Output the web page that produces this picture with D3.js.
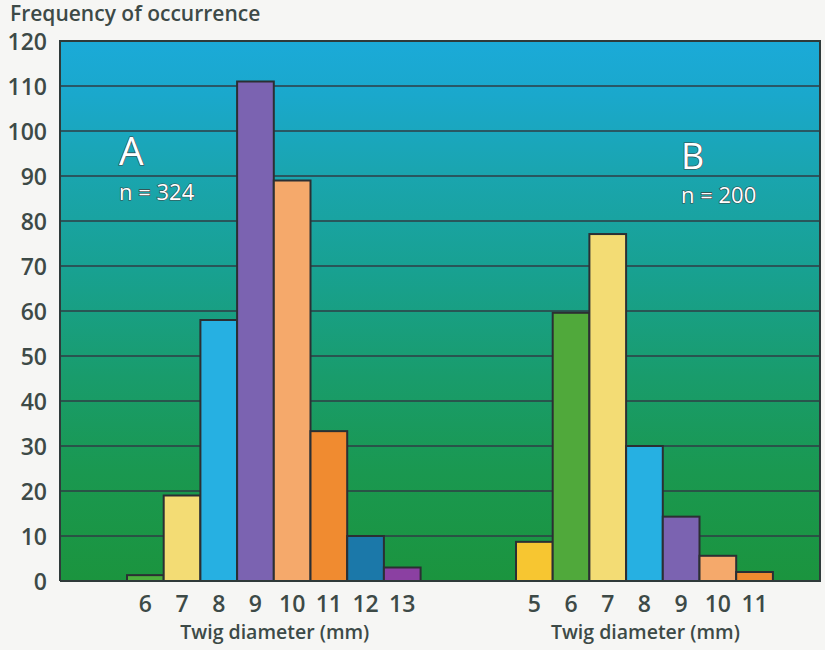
<!DOCTYPE html>
<html><head><meta charset="utf-8">
<script src="https://cdn.jsdelivr.net/npm/d3@7"></script>
<style>body{margin:0;background:#f6f6f4;}svg{display:block;}</style>
</head><body>
<svg id="c" width="825" height="650"></svg>
<script>
const catsA = ["6","7","8","9","10","11","12","13"];
const valsA = [1.3, 19, 58, 111, 89, 33.3, 10, 3];
const colorsA = ["#4daf3c","#f3dc74","#26b0e2","#7b63b1","#f5a96b","#f08b30","#1b78a9","#8b40a2"];
const catsB = ["5","6","7","8","9","10","11"];
const valsB = [8.7, 59.6, 77.1, 30, 14.3, 5.6, 2];
const colorsB = ["#f7c631","#50a93b","#f3dc74","#26b0e2","#7b63b1","#f5a96b","#f08b30"];
const yTicks = [0,10,20,30,40,50,60,70,80,90,100,110,120];
const yTitle = "Frequency of occurrence";
const xTitle = "Twig diameter (mm)";
const labelA = ["A","n = 324"];
const labelB = ["B","n = 200"];

const FONT = "'Open Sans', Lato, sans-serif";
const svg = d3.select("#c");
const L = 60, R = 820, T = 41, B = 581;
const y = d3.scaleLinear().domain([0,120]).range([B,T]);
const slotW = 36.7;
const x = d3.scaleLinear().domain([0,1]).range([127,127+slotW]);
const offB = (516-127)/slotW;

const defs = svg.append("defs");
const g = defs.append("linearGradient").attr("id","bg").attr("x1",0).attr("y1",0).attr("x2",0).attr("y2",1);
[["0%","#1baad8"],["10%","#1aa8cc"],["24%","#1aa5b0"],["42%","#18a192"],["62%","#199c6c"],["80%","#1a9850"],["100%","#1b943e"]]
  .forEach(s=>g.append("stop").attr("offset",s[0]).attr("stop-color",s[1]));

svg.append("rect").attr("x",L).attr("y",T).attr("width",R-L).attr("height",B-T).attr("fill","url(#bg)");

svg.append("g").selectAll("line").data(yTicks.filter(d=>d>0&&d<120)).join("line")
  .attr("x1",L).attr("x2",R).attr("y1",d=>y(d)).attr("y2",d=>y(d))
  .attr("stroke","#2f3d44").attr("stroke-width",1.6);

function bars(cats, vals, colors, off){
  svg.append("g").selectAll("rect").data(cats).join("rect")
    .attr("x",(d,i)=>x(i+off)).attr("width",slotW)
    .attr("y",(d,i)=>y(vals[i])).attr("height",(d,i)=>y(0)-y(vals[i]))
    .attr("fill",(d,i)=>colors[i]).attr("stroke","#2b2f33").attr("stroke-width",2);
  svg.append("g").selectAll("text").data(cats).join("text")
    .attr("x",(d,i)=>x(i+off+0.5)).attr("y",612)
    .attr("text-anchor","middle").attr("font-family",FONT)
    .attr("font-weight",600).attr("font-size",23).attr("fill","#3d4a47").text(d=>d);
  svg.append("text").attr("x",(x(off)+x(off+cats.length))/2+1).attr("y",639)
    .attr("text-anchor","middle").attr("font-family",FONT)
    .attr("font-weight",600).attr("font-size",19.5).attr("fill","#3d4a47").text(xTitle);
}
bars(catsA, valsA, colorsA, 0);
bars(catsB, valsB, colorsB, offB);

svg.append("path").attr("d",`M${L},${B}V${T}H${R}V${B}H${L}`).attr("fill","none")
  .attr("stroke","#2f3a3a").attr("stroke-width",2);

svg.append("g").selectAll("text").data(yTicks).join("text")
  .attr("x",47).attr("y",d=>y(d)+8.5).attr("text-anchor","end")
  .attr("font-family",FONT).attr("font-weight",600)
  .attr("font-size",23).attr("fill","#3d4a47").text(d=>d);

svg.append("text").attr("x",10).attr("y",21)
  .attr("font-family",FONT).attr("font-weight",600)
  .attr("font-size",21).attr("fill","#3d4a47").text(yTitle);

function lab(t, x0, y0, size){
  svg.append("text").attr("x",x0).attr("y",y0)
    .attr("font-family",FONT).attr("font-weight",400)
    .attr("font-size",size).attr("fill","#ffffff").attr("stroke","#3a4444").attr("stroke-width",1.2)
    .attr("paint-order","stroke").text(t);
}
lab(labelA[0],119,165,39);
lab(labelA[1],119,200,22);
lab(labelB[0],681,169,36);
lab(labelB[1],681,203,22);
</script>
</body></html>
